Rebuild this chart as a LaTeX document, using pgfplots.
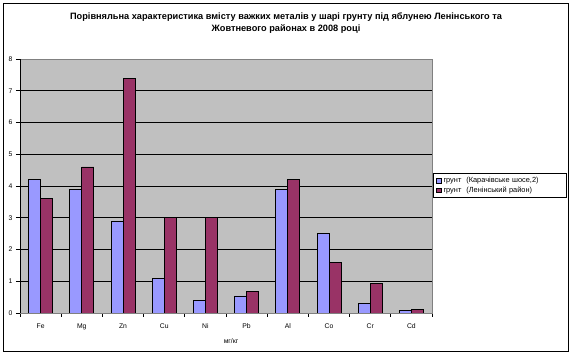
\documentclass[border=0pt]{standalone}
\usepackage{fontspec}
\setmainfont{Liberation Sans}
\usepackage{pgfplots}
\pgfplotsset{compat=1.18}
\definecolor{serA}{HTML}{9999FF}
\definecolor{serB}{HTML}{993366}
\definecolor{plotbg}{HTML}{C0C0C0}
\definecolor{plotborder}{HTML}{808080}
\begin{document}
\begin{tikzpicture}
\useasboundingbox (-20pt,313pt) rectangle (552pt,-42pt);
\draw[black, line width=0.9pt] (-17pt,310pt) rectangle (548pt,-38pt);
\begin{axis}[
  at={(0pt,0pt)}, anchor=south west,
  scale only axis, width=412pt, height=254pt,
  xmin=-0.5, xmax=9.5, ymin=0, ymax=8,
  ybar=0pt, bar width=12pt,
  xtick={0,...,9},
  xticklabels={Fe,Mg,Zn,Cu,Ni,Pb,Al,Co,Cr,Cd},
  minor xtick={-0.5,0.5,...,9.5},
  major x tick style={draw=none},
  ytick={0,...,8},
  xtick pos=bottom, ytick pos=left,
  tick align=outside,
  major tick length=4pt, minor tick length=4pt,
  tick style={black, line width=0.8pt},
  ymajorgrids, grid style={black, line width=0.8pt},
  axis background/.style={fill=plotbg},
  axis line style={draw=plotborder, line width=0.8pt},
  font=\fontsize{6.8}{7.5}\selectfont,
  /pgf/number format/assume math mode=true,
  xticklabel style={yshift=-3pt},
  xlabel={мг/кг},
  xlabel style={at={(axis description cs:0.5,0)}, anchor=center, yshift=-28pt, xshift=5pt},
  legend image code/.code={\draw[#1, line width=0.5pt] (0pt,-2.3pt) rectangle (4.6pt,2.3pt);},
  legend style={at={(413pt,140pt)}, anchor=north west, draw=black, line width=0.8pt, fill=white,
    font=\fontsize{7.4}{8}\selectfont, row sep=-1.5pt, inner ysep=2pt,
    nodes={text width=118pt, inner xsep=2pt}},
  legend cell align=left,
]
\addplot[fill=serA, draw=black, line width=0.7pt] coordinates {(0,4.2)(1,3.9)(2,2.9)(3,1.1)(4,0.4)(5,0.54)(6,3.9)(7,2.5)(8,0.31)(9,0.07)};
\addplot[fill=serB, draw=black, line width=0.7pt] coordinates {(0,3.6)(1,4.6)(2,7.4)(3,3.0)(4,3.0)(5,0.69)(6,4.2)(7,1.6)(8,0.94)(9,0.12)};
\legend{{грунт\ \ (Карачівське шосе,2)}, {грунт\ \ (Ленінський район)}}
\draw[black, line width=0.8pt] (rel axis cs:0,1) -- (rel axis cs:0,0) -- (rel axis cs:1,0);
\end{axis}
\node[font=\bfseries\fontsize{9.2}{10}\selectfont] at (266pt,296pt) {Порівняльна характеристика вмісту важких металів у шарі грунту під яблунею Ленінського та};
\node[font=\bfseries\fontsize{9.2}{10}\selectfont] at (266pt,284pt) {Жовтневого районах в 2008 році};
\end{tikzpicture}
\end{document}
